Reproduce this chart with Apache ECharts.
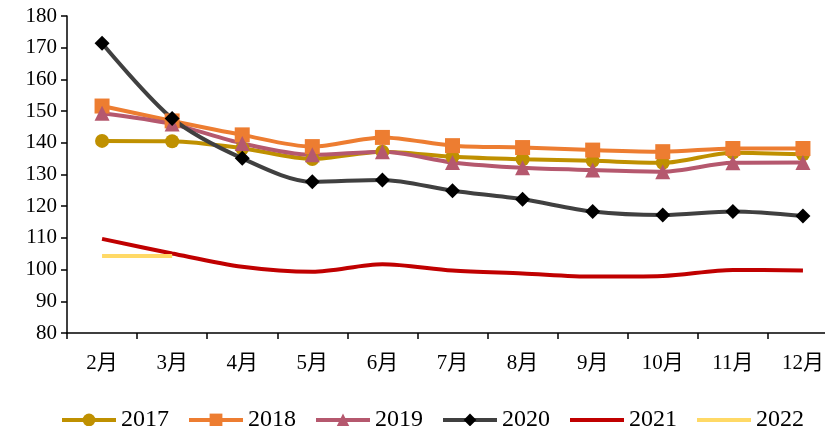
<!DOCTYPE html>
<html>
<head>
<meta charset="utf-8">
<script src="https://cdn.jsdelivr.net/npm/echarts@6/dist/echarts.min.js"></script>
<style>
  html, body { margin: 0; padding: 0; background: #fff; overflow: hidden; }
  #chart { width: 838px; height: 426px; }
</style>
</head>
<body>
<div id="chart"></div>
<script>
// Monthly index values, February through December, one series per year
const months = ['2月', '3月', '4月', '5月', '6月', '7月', '8月', '9月', '10月', '11月', '12月'];
const y2017 = [140.6, 140.5, 138.3, 134.9, 137.2, 135.6, 134.8, 134.3, 133.7, 136.9, 136.4];
const y2018 = [151.6, 146.9, 142.5, 138.8, 141.7, 139.1, 138.5, 137.7, 137.2, 138.2, 138.2];
const y2019 = [149.3, 145.9, 139.8, 136.2, 137.2, 133.8, 132.1, 131.4, 130.9, 133.7, 133.8];
const y2020 = [171.4, 147.7, 135.1, 127.7, 128.3, 124.9, 122.2, 118.3, 117.2, 118.3, 116.9];
const y2021 = [109.7, 105.1, 100.9, 99.3, 101.7, 99.7, 98.8, 97.8, 98.0, 99.9, 99.7];
const y2022 = [104.3, 104.3];

const yMin = 80, yMax = 180, yStep = 10;

const serif = "'Liberation Serif', 'Times New Roman', 'Noto Sans CJK SC', serif";

function lineSeries(name, data, lineColor, markColor, symbol, size) {
  return {
    name: name,
    type: 'line',
    data: data,
    smooth: 0.3,
    symbol: symbol,
    symbolSize: size,
    showSymbol: symbol !== 'none',
    lineStyle: { color: lineColor, width: 4 },
    itemStyle: { color: markColor },
    emphasis: { disabled: true },
    z: 2
  };
}

const chart = echarts.init(document.getElementById('chart'), null, { renderer: 'canvas' });
chart.setOption({
  animation: false,
  backgroundColor: '#ffffff',
  // the plot runs on past the right edge of the visible page, so the last category band is cut
  grid: { left: 67, top: 16, right: 0, bottom: 93, containLabel: false },
  legend: {
    top: 403,
    left: 55,
    itemWidth: 54,
    itemHeight: 16,
    itemGap: 18,
    lineStyle: { width: 4 },
    textStyle: { fontFamily: serif, fontSize: 24, color: '#000' },
    data: [
      { name: '2017' },
      { name: '2018' },
      { name: '2019' },
      { name: '2020' },
      { name: '2021', itemStyle: { opacity: 0 } },
      { name: '2022', itemStyle: { opacity: 0 } }
    ]
  },
  xAxis: {
    type: 'category',
    data: months,
    boundaryGap: true,
    axisLine: { lineStyle: { color: '#000', width: 1.5 } },
    axisTick: { show: true, length: 6, lineStyle: { color: '#000', width: 1.5 } },
    axisLabel: { fontFamily: serif, fontSize: 21, color: '#000', margin: 20 },
    splitLine: { show: false }
  },
  yAxis: {
    type: 'value',
    min: yMin,
    max: yMax,
    interval: yStep,
    axisLine: { show: true, lineStyle: { color: '#000', width: 1.5 } },
    axisTick: { show: true, length: 6, lineStyle: { color: '#000', width: 1.5 } },
    axisLabel: { fontFamily: serif, fontSize: 21, color: '#000', margin: 10 },
    splitLine: { show: false }
  },
  series: [
    lineSeries('2017', y2017, '#BF9000', '#BF9000', 'circle', 14),
    lineSeries('2018', y2018, '#ED7D31', '#ED7D31', 'rect', 15),
    lineSeries('2019', y2019, '#B5586E', '#B5586E', 'triangle', 15),
    lineSeries('2020', y2020, '#404040', '#000000', 'diamond', 15),
    lineSeries('2021', y2021, '#C00000', '#C00000', 'none', 0),
    lineSeries('2022', y2022, '#FFD966', '#FFD966', 'none', 0)
  ]
});
</script>
</body>
</html>
